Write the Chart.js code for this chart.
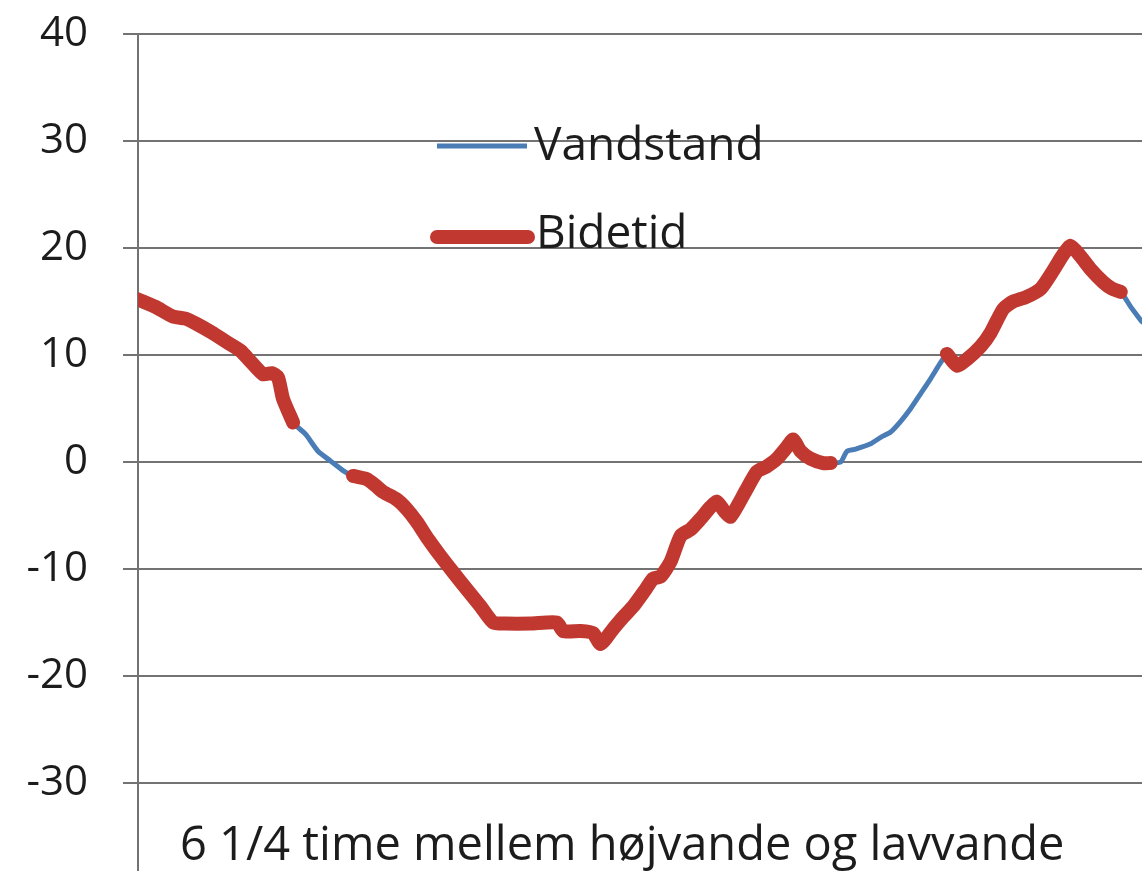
<!DOCTYPE html>
<html>
<head>
<meta charset="utf-8">
<script src="https://cdn.jsdelivr.net/npm/chart.js@4.4.1/dist/chart.umd.min.js"></script>
<style>
  html, body { margin: 0; padding: 0; background: #fff; overflow: hidden; }
  #wrap { width: 1142px; height: 871px; overflow: hidden; }
  canvas { display: block; }
</style>
</head>
<body>
<div id="wrap"><canvas id="tide" width="1142" height="950"></canvas></div>
<script>
// minutes along the tide cycle (x) and water level (y)
const minutes = [0, 14, 28, 38, 47, 59, 71, 82, 90, 100,
    107, 112, 116, 124, 134, 144, 154, 164, 172, 183,
    190, 196, 207, 215, 223, 232, 242, 252, 263, 274,
    284, 294, 314, 335, 340, 354, 364, 370, 380, 388,
    396, 406, 412, 418, 426, 434, 442, 450, 458, 463,
    469, 474, 486, 495, 503, 511, 519, 524, 530, 538,
    548, 554, 562, 567, 574, 586, 594, 602, 610, 618,
    626, 634, 642, 647, 655, 663, 674, 682, 692, 700,
    710, 722, 732, 740, 746, 754, 762, 772, 779, 786,
    794, 803];

const vandstand = [15.2, 14.5, 13.6, 13.4, 12.9, 12.1, 11.2, 10.4, 9.4, 8.2,
    8.3, 7.9, 5.9, 3.7, 2.6, 1.0, 0.1, -0.8, -1.3, -1.6,
    -2.2, -2.8, -3.5, -4.4, -5.6, -7.2, -8.8, -10.3, -11.9, -13.5,
    -15.0, -15.1, -15.1, -15.0, -15.8, -15.8, -16.0, -17.0, -15.6, -14.5,
    -13.5, -11.9, -10.9, -10.7, -9.3, -6.9, -6.3, -5.3, -4.2, -3.7,
    -4.6, -5.1, -2.7, -0.9, -0.4, 0.3, 1.4, 2.1, 1.0, 0.3,
    -0.1, -0.1, 0, 1.0, 1.2, 1.7, 2.3, 2.8, 3.8, 5.0,
    6.4, 7.8, 9.3, 10.1, 9.0, 9.6, 10.8, 12.1, 14.3, 15.0,
    15.4, 16.2, 17.9, 19.4, 20.2, 19.2, 18.0, 16.8, 16.2, 15.9,
    14.5, 13.1];

const bidetid = [15.2, 14.5, 13.6, 13.4, 12.9, 12.1, 11.2, 10.4, 9.4, 8.2,
    8.3, 7.9, 5.9, 3.7, null, null, null, null, -1.3, -1.6,
    -2.2, -2.8, -3.5, -4.4, -5.6, -7.2, -8.8, -10.3, -11.9, -13.5,
    -15.0, -15.1, -15.1, -15.0, -15.8, -15.8, -16.0, -17.0, -15.6, -14.5,
    -13.5, -11.9, -10.9, -10.7, -9.3, -6.9, -6.3, -5.3, -4.2, -3.7,
    -4.6, -5.1, -2.7, -0.9, -0.4, 0.3, 1.4, 2.1, 1.0, 0.3,
    -0.1, -0.1, null, null, null, null, null, null, null, null,
    null, null, null, 10.1, 9.0, 9.6, 10.8, 12.1, 14.3, 15.0,
    15.4, 16.2, 17.9, 19.4, 20.2, 19.2, 18.0, 16.8, 16.2, 15.9,
    null, null];

const yMin = -40, yMax = 40, yStep = 10;
const caption = "6 1/4 time mellem højvande og lavvande";

const blue = "rgb(74, 124, 182)";
const red = "rgb(192, 56, 48)";
const gridGrey = "#737373";
const textColor = "#1c1c1c";
const fontFamily = "'Open Sans', Lato, sans-serif";

// legend sits inside the plot in the original, so draw it by hand
const insideLegend = {
    id: "insideLegend",
    afterDraw(chart) {
        const ctx = chart.ctx;
        const rows = [
            { ds: 0, x0: 437, x1: 527, y: 146, cap: "butt", tx: 534, base: 160 },
            { ds: 1, x0: 437, x1: 528, y: 237, cap: "round", tx: 536, base: 248 }
        ];
        ctx.save();
        ctx.font = "46px " + fontFamily;
        ctx.fillStyle = textColor;
        ctx.textBaseline = "alphabetic";
        rows.forEach(r => {
            const d = chart.data.datasets[r.ds];
            ctx.beginPath();
            ctx.moveTo(r.x0, r.y);
            ctx.lineTo(r.x1, r.y);
            ctx.strokeStyle = d.borderColor;
            ctx.lineWidth = d.borderWidth;
            ctx.lineCap = r.cap;
            ctx.stroke();
            ctx.fillText(d.label, r.tx, r.base);
        });
        ctx.font = "47px " + fontFamily;
        ctx.fillText(caption, 180, 860);
        ctx.restore();
    }
};

const chart = new Chart(document.getElementById("tide"), {
    type: "line",
    data: {
        labels: minutes,
        datasets: [
            {
                label: "Vandstand",
                data: minutes.map((m, i) => ({ x: m, y: vandstand[i] })),
                borderColor: blue,
                borderWidth: 5,
                pointRadius: 0,
                tension: 0.2,
                borderJoinStyle: "round",
                borderCapStyle: "round",
                order: 2
            },
            {
                label: "Bidetid",
                data: minutes.map((m, i) => ({ x: m, y: bidetid[i] })),
                borderColor: red,
                borderWidth: 14,
                pointRadius: 0,
                tension: 0.2,
                spanGaps: false,
                borderJoinStyle: "round",
                borderCapStyle: "round",
                order: 1
            }
        ]
    },
    options: {
        responsive: false,
        animation: false,
        layout: { autoPadding: false, padding: { top: 34, bottom: 60, left: 0, right: 0 } },
        plugins: {
            legend: { display: false },
            tooltip: { enabled: false }
        },
        scales: {
            x: {
                type: "linear",
                display: false,
                min: minutes[0],
                max: minutes[minutes.length - 1]
            },
            y: {
                min: yMin,
                max: yMax,
                afterFit(scale) {
                    scale.width = 138;
                    scale.paddingTop = 0;
                    scale.paddingBottom = 0;
                },
                ticks: {
                    stepSize: yStep,
                    padding: 35,
                    color: textColor,
                    font: { family: fontFamily, size: 42 }
                },
                grid: {
                    color: gridGrey,
                    lineWidth: 2,
                    tickLength: 15
                },
                border: { display: true, color: gridGrey, width: 2 }
            }
        }
    },
    plugins: [insideLegend]
});
</script>
</body>
</html>
